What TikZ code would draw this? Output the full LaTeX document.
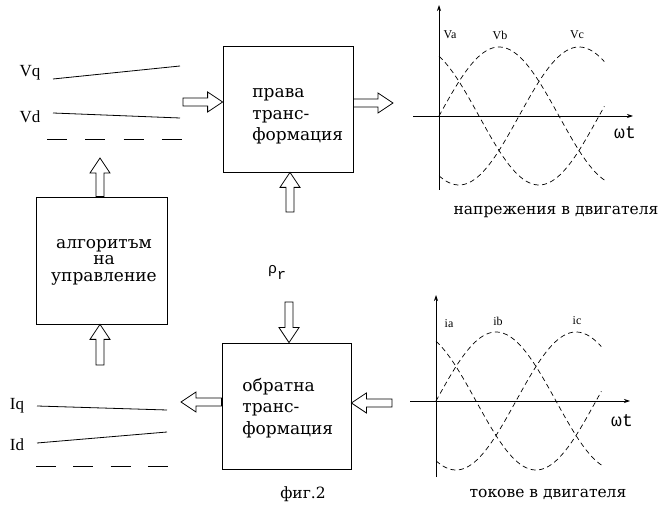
\documentclass[tikz,border=0pt]{standalone}
\usepackage{fontspec}
\setmainfont{DejaVu Serif}
\newfontfamily\latfont{Liberation Serif}
\newfontfamily\monofont{Liberation Mono}
\usetikzlibrary{calc,arrows.meta,positioning}

\begin{document}
\begin{tikzpicture}[x=1pt, y=-1pt, line width=0.8pt,
  block/.style={draw, minimum height=126pt, inner sep=0pt},
  blocktext/.style={font=\fontsize{17}{21.5}\selectfont, align=left, anchor=west, inner sep=0pt},
  signame/.style={font=\latfont\fontsize{17}{20}\selectfont, inner sep=0pt},
  phase/.style={font=\latfont\fontsize{12}{14}\selectfont, inner sep=0pt},
  omega/.style={font=\monofont\fontsize{18}{20}\selectfont, inner sep=0pt},
  caption/.style={font=\fontsize{15.5}{18}\selectfont, inner sep=0pt},
  wave/.style={dash pattern=on 5pt off 3.5pt, line width=0.7pt, smooth, samples=80, domain=0:248},
  axis/.style={line width=0.7pt, -{Stealth[length=6pt, width=4pt]}},
  blockarrow/.style={to path={
    let \p1=($(\tikztotarget)-(\tikztostart)$), \n1={veclen(\x1,\y1)}, \n2={atan2(\y1,\x1)} in
    {[shift={(\tikztostart)}, rotate=\n2]
     (0pt,-4pt) -- ({\n1*1pt-15pt},-4pt) -- ({\n1*1pt-15pt},-10pt) -- ({\n1*1pt},0pt)
     -- ({\n1*1pt-15pt},10pt) -- ({\n1*1pt-15pt},4pt) -- (0pt,4pt) -- cycle}}},
]
\useasboundingbox (0,0) rectangle (664,510);

% blocks
\node[block, minimum width=130pt] (fwd) at (288,109) {};
\node[block, minimum width=131pt, minimum height=127pt] (ctrl) at (101.5,260.5) {};
\node[block, minimum width=129pt] (inv) at (286.5,406) {};

\node[blocktext] (fwdtxt) at (252,116.5) {права\\транс-\\формация};
\node[blocktext] (invtxt) at (242,408) {обратна\\транс-\\формация};
\node[blocktext, align=center, anchor=center, font=\fontsize{17}{16.5}\selectfont] (ctrltxt) at (104,262) {алгоритъм\\на\\управление};

% Vq, Vd
\node[signame] (vq) at (30,73) {Vq};
\node[signame] (vd) at (30,117) {Vd};
\coordinate (vqa) at (53,79);  \coordinate (vqb) at (180,66);
\coordinate (vda) at (53,113); \coordinate (vdb) at (180,118);
\coordinate (vza) at (47,139); \coordinate (vzb) at (182,139);
\draw (vqa) -- (vqb);
\draw (vda) -- (vdb);
\draw[dash pattern=on 20pt off 18.3pt] (vza) -- (vzb);

% Iq, Id
\node[signame] (iq) at (17,406) {Iq};
\node[signame] (id) at (17,445) {Id};
\coordinate (iqa) at (37,406); \coordinate (iqb) at (167,410);
\coordinate (ida) at (37,443); \coordinate (idb) at (167,432);
\coordinate (iza) at (36,466); \coordinate (izb) at (168,466);
\draw (iqa) -- (iqb);
\draw (ida) -- (idb);
\draw[dash pattern=on 20pt off 17.3pt] (iza) -- (izb);

% block arrows
\coordinate (fwdin) at (183,102);
\coordinate (fwdout) at (393,103);
\coordinate (rotin) at (290,212);
\coordinate (ctrlout) at (100,158);
\coordinate (ctrlin) at (100,365);
\coordinate (rhoin) at (289,302);
\coordinate (invout) at (181,402);
\coordinate (invin) at (392,403);
\draw[blockarrow] (fwdin) to (fwdin -| fwd.west);
\draw[blockarrow] (fwdout -| fwd.east) to (fwdout);
\draw[blockarrow] (rotin) to (rotin |- fwd.south);
\draw[blockarrow] (ctrlout |- ctrl.north) to (ctrlout);
\draw[blockarrow] (ctrlin) to (ctrlin |- ctrl.south);
\draw[blockarrow] (rhoin) to (rhoin |- inv.north);
\draw[blockarrow] (invout -| inv.west) to (invout);
\draw[blockarrow] (invin) to (invin -| inv.east);

\node[inner sep=0pt, font=\monofont\fontsize{15}{16}\selectfont] (rho) at (277,272) {ρ\raisebox{-6pt}{r}};
\node[caption] (fig) at (303,494) {фиг.2};

% voltages
\coordinate (vo) at (439,116);
\draw[axis] ([xshift=-26pt]vo) -- ([xshift=194pt]vo);
\draw[axis] ([yshift=-74pt]vo) -- ([yshift=111pt]vo);
\begin{scope}[shift={(vo)}]
  \draw[wave] plot ({\x*2/3}, {-69*sin(\x+120)});
  \draw[wave] plot ({\x*2/3}, {-69*sin(\x)});
  \draw[wave] plot ({\x*2/3}, {-69*sin(\x-120)});
\end{scope}
\node[phase] (va) at (450,35) {Va};
\node[phase] (vb) at (500,35) {Vb};
\node[phase] (vc) at (577,35) {Vc};
\node[omega] (vwt) at (625,133) {ωt};
\node[caption] (vcap) at (556,212) {напрежения в двигателя};

% currents
\coordinate (io) at (436,401);
\draw[axis] ([xshift=-26pt]io) -- ([xshift=194pt]io);
\draw[axis] ([yshift=-76pt]io) -- ([yshift=106pt]io);
\begin{scope}[shift={(io)}]
  \draw[wave] plot ({\x*2/3}, {-69*sin(\x+120)});
  \draw[wave] plot ({\x*2/3}, {-69*sin(\x)});
  \draw[wave] plot ({\x*2/3}, {-69*sin(\x-120)});
\end{scope}
\node[phase] (ia) at (449,324) {ia};
\node[phase] (ib) at (498,321) {ib};
\node[phase] (ic) at (577,321) {ic};
\node[omega] (iwt) at (622,421) {ωt};
\node[caption] (icap) at (548,494) {токове в двигателя};

\end{tikzpicture}
\end{document}
